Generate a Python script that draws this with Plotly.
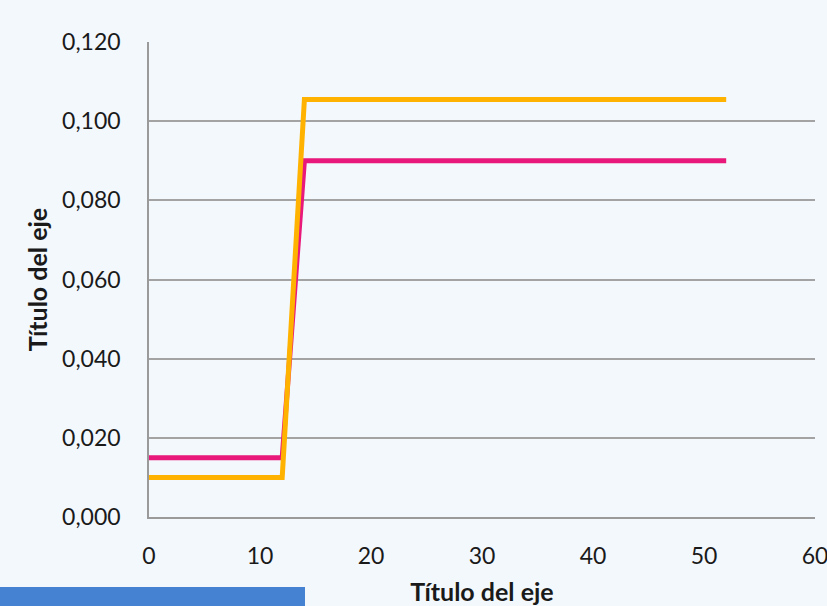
import plotly.graph_objects as go

x_vals = [0, 12, 14, 52]
serie_rosa = [0.015, 0.015, 0.090, 0.090]
serie_amarilla = [0.010, 0.010, 0.1055, 0.1055]
x_ticks = [0, 10, 20, 30, 40, 50, 60]
y_ticks = [0.0, 0.02, 0.04, 0.06, 0.08, 0.10, 0.12]
y_labels = ["0,000", "0,020", "0,040", "0,060", "0,080", "0,100", "0,120"]

fig = go.Figure()
fig.add_trace(go.Scatter(x=x_vals, y=serie_rosa, mode="lines",
                         line=dict(color="#E8197A", width=5), showlegend=False))
fig.add_trace(go.Scatter(x=x_vals, y=serie_amarilla, mode="lines",
                         line=dict(color="#FFB300", width=5), showlegend=False))

font_main = "Lato, 'Open Sans', sans-serif"
fig.update_layout(
    width=827, height=606, autosize=False,
    margin=dict(l=149, r=12, t=42, b=89, autoexpand=False),
    paper_bgcolor="#F3F8FD",
    plot_bgcolor="rgba(0,0,0,0)",
    font=dict(family=font_main, size=23, color="#1a1a1a"),
    xaxis=dict(range=[0, 60], tickvals=x_ticks, showgrid=False, zeroline=False,
               showline=True, linecolor="#9a9a9a", linewidth=1.5, automargin=False,
               ticks="", ticklabelstandoff=18, ticklabeloverflow="allow",
               title=dict(text="<b>Título del eje</b>", font=dict(size=25), standoff=18)),
    yaxis=dict(range=[0, 0.12], tickvals=y_ticks, ticktext=y_labels,
               showgrid=True, gridcolor="#a3a3a3", gridwidth=1.5, zeroline=False,
               showline=True, linecolor="#9a9a9a", linewidth=1.5, automargin=False,
               ticks="", ticklabelstandoff=22,
               title=dict(text="<b>Título del eje</b>", font=dict(size=25), standoff=7)),
    shapes=[dict(type="rect", xref="paper", yref="paper", x0=-149/666, x1=(305-149)/666,
                 y0=-89/475, y1=-70/475, fillcolor="#4682D2", line=dict(width=0), layer="below")],
)

fig.write_html(
    "out.html",
    config={"displayModeBar": False, "responsive": False},
    post_script=(
        "document.documentElement.style.overflow='hidden';"
        "document.body.style.margin='0';"
        "document.body.style.overflow='hidden';"
        "document.body.style.background='#F3F8FD';"
        "Plotly.relayout('{plot_id}', {width: 827, height: 606});"
    ),
)
